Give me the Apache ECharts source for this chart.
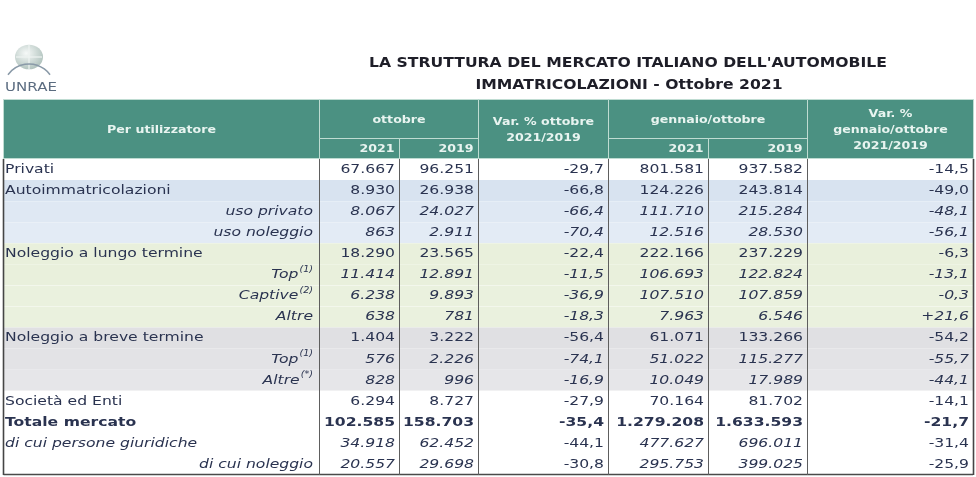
<!DOCTYPE html>
<html><head><meta charset="utf-8">
<script src="https://cdn.jsdelivr.net/npm/echarts@6/dist/echarts.min.js"></script>
<style>html,body{margin:0;padding:0;background:#fff}#c{width:976px;height:477px}</style>
</head><body><div id="c"></div>
<script>
// ---- data ----
const rowLabels = ['Privati','Autoimmatricolazioni','uso privato','uso noleggio','Noleggio a lungo termine','Top','Captive','Altre','Noleggio a breve termine','Top','Altre','Società ed Enti','Totale mercato','di cui persone giuridiche','di cui noleggio'];
const rowNotes = ['','','','','','(1)','(2)','','','(1)','(*)','','','',''];
const rowKinds = ['main','main','sub','sub','main','sub','sub','sub','main','sub','sub','main','total','note','noteSub'];
const ott2021 = [67667, 8930, 8067, 863, 18290, 11414, 6238, 638, 1404, 576, 828, 6294, 102585, 34918, 20557];
const ott2019 = [96251, 26938, 24027, 2911, 23565, 12891, 9893, 781, 3222, 2226, 996, 8727, 158703, 62452, 29698];
const varOtt = [-29.7, -66.8, -66.4, -70.4, -22.4, -11.5, -36.9, -18.3, -56.4, -74.1, -16.9, -27.9, -35.4, -44.1, -30.8];
const gen2021 = [801581, 124226, 111710, 12516, 222166, 106693, 107510, 7963, 61071, 51022, 10049, 70164, 1279208, 477627, 295753];
const gen2019 = [937582, 243814, 215284, 28530, 237229, 122824, 107859, 6546, 133266, 115277, 17989, 81702, 1633593, 696011, 399025];
const varGen = [-14.5, -49.0, -48.1, -56.1, -6.3, -13.1, -0.3, 21.6, -54.2, -55.7, -44.1, -14.1, -21.7, -31.4, -25.9];
const headerTop = ['Per utilizzatore', 'ottobre', 'Var. % ottobre\n2021/2019', 'gennaio/ottobre', 'Var. %\ngennaio/ottobre\n2021/2019'];
const yearLabels = ['2021', '2019'];
const titleLines = ["LA STRUTTURA DEL MERCATO ITALIANO DELL'AUTOMOBILE", 'IMMATRICOLAZIONI - Ottobre 2021'];

// ---- layout / style ----
const colEdges = [0, 316, 396, 475, 605, 705, 804, 970];
const rowFill = ['#ffffff','#d8e3f0','#dfe8f3','#e3ebf5','#e9f0dc','#e9f0dc','#eaf1de','#eaf1de','#e0e0e3','#e3e3e6','#e6e6e9','#ffffff','#ffffff','#ffffff','#ffffff'];
const FONT = '"DejaVu Sans", Verdana, sans-serif';
const SX = 1.2;
const TXT = '#2a3350';
const TEAL = '#4b9182';
const HLINE = '#bfdcd2';

const fmtInt = n => String(n).replace(/\B(?=(\d{3})+(?!\d))/g, '.');
const fmtPct = v => (v > 0 ? '+' : '') + v.toFixed(1).replace('.', ',');
const columns = [null, ott2021.map(fmtInt), ott2019.map(fmtInt), varOtt.map(fmtPct), gen2021.map(fmtInt), gen2019.map(fmtInt), varGen.map(fmtPct)];

const mctx = document.createElement('canvas').getContext('2d');
function measure(t, f) { mctx.font = f; return mctx.measureText(t).width; }

const headerCells = [
  {c0:0,c1:1,r0:0,r1:3,t:headerTop[0],a:'center'},
  {c0:1,c1:3,r0:0,r1:2,t:headerTop[1],a:'center'},
  {c0:1,c1:2,r0:2,r1:3,t:yearLabels[0],a:'right'},
  {c0:2,c1:3,r0:2,r1:3,t:yearLabels[1],a:'right'},
  {c0:3,c1:4,r0:0,r1:3,t:headerTop[2],a:'center'},
  {c0:4,c1:6,r0:0,r1:2,t:headerTop[3],a:'center'},
  {c0:4,c1:5,r0:2,r1:3,t:yearLabels[0],a:'right'},
  {c0:5,c1:6,r0:2,r1:3,t:yearLabels[1],a:'right'},
  {c0:6,c1:7,r0:0,r1:3,t:headerTop[4],a:'center'}
];

const cellData = [];
for (let r = 0; r < rowLabels.length; r++) for (let c = 0; c < 7; c++) cellData.push([c, r]);

function bodyText(x, y, text, align, font) {
  return {type:'text', x:x, y:y, scaleX:SX, style:{text:text, x:0, y:0, align:align, verticalAlign:'middle', font:font, fill:TXT}};
}

const chart = echarts.init(document.getElementById('c'), null, {renderer:'canvas'});
chart.setOption({
  animation: false,
  backgroundColor: '#ffffff',
  grid: [
    {left: 3, top: 99, width: 970, height: 59},
    {left: 3, top: 159, width: 970, height: 316}
  ],
  xAxis: [
    {type:'value', gridIndex:0, min:0, max:970, show:false},
    {type:'value', gridIndex:1, min:0, max:970, show:false}
  ],
  yAxis: [
    {type:'value', gridIndex:0, min:0, max:3, inverse:true, show:false},
    {type:'category', gridIndex:1, data:rowLabels, inverse:true, show:false}
  ],
  graphic: [
    {type:'circle', x:29, y:57, scaleY:0.88, shape:{cx:0, cy:0, r:14}, style:{fill:{type:'radial', x:0.4, y:0.35, r:0.8, colorStops:[{offset:0,color:'#f6f9f8'},{offset:1,color:'#a3b8b2'}]}}},
    {type:'line', shape:{x1:29, y1:45, x2:29, y2:69}, style:{stroke:'#eef4f2', lineWidth:1.2}},
    {type:'line', shape:{x1:16, y1:57, x2:42, y2:57}, style:{stroke:'#eef4f2', lineWidth:1.2}},
    {type:'arc', shape:{cx:29, cy:90, r:26, startAngle:Math.PI*1.2, endAngle:Math.PI*1.8}, style:{stroke:'#8a9aa8', lineWidth:1.5, fill:null}},
    {type:'text', x:31, y:88, scaleX:1.25, style:{text:'UNRAE', x:0, y:0, align:'center', verticalAlign:'middle', font:'12px ' + FONT, fill:'#5b6c80'}},
    {type:'text', x:628, y:63, scaleX:1.116, style:{text:titleLines[0], x:0, y:0, align:'center', verticalAlign:'middle', font:'bold 14px ' + FONT, fill:'#1e1e28'}},
    {type:'text', x:629, y:85, scaleX:1.116, style:{text:titleLines[1], x:0, y:0, align:'center', verticalAlign:'middle', font:'bold 14px ' + FONT, fill:'#1e1e28'}}
  ],
  series: [
    // header cells
    {
      type:'custom', xAxisIndex:0, yAxisIndex:0, clip:false, z:2,
      data: headerCells.map((h, i) => [i, 0]),
      renderItem: function (params, api) {
        const h = headerCells[api.value(0)];
        const p0 = api.coord([colEdges[h.c0], h.r0]);
        const p1 = api.coord([colEdges[h.c1], h.r1]);
        const x0 = Math.round(p0[0]) + 0.5, y0 = Math.round(p0[1]) + 0.5;
        const x1 = Math.round(p1[0]) + 0.5, y1 = Math.round(p1[1]) + 0.5;
        const tx = h.a === 'right' ? x1 - 5 : (x0 + x1) / 2;
        return {type:'group', children:[
          {type:'rect', shape:{x:x0, y:y0, width:x1-x0, height:y1-y0}, style:{fill:TEAL, stroke:HLINE, lineWidth:1}},
          {type:'text', x:tx, y:(y0 + y1) / 2 + 1, scaleX:SX, style:{text:h.t, x:0, y:0, align:h.a, verticalAlign:'middle', lineHeight:16, font:'bold 10.5px ' + FONT, fill:'#e8f4f0'}}
        ]};
      }
    },
    // row backgrounds
    {
      type:'custom', xAxisIndex:1, yAxisIndex:1, clip:false, z:1,
      data: rowLabels.map((l, r) => [0, r]),
      renderItem: function (params, api) {
        const r = api.value(1);
        const c = api.coord([colEdges[0], r]);
        const e = api.coord([colEdges[7], r]);
        const h = api.size([0, 1])[1];
        return {type:'group', children:[
          {type:'rect', shape:{x:c[0], y:c[1] - h / 2, width:e[0] - c[0], height:h}, style:{fill:rowFill[r]}},
          {type:'line', shape:{x1:c[0], y1:Math.round(c[1] + h / 2) + 0.5, x2:e[0], y2:Math.round(c[1] + h / 2) + 0.5}, style:{stroke:'rgba(255,255,255,0.7)', lineWidth:1}}
        ]};
      }
    },
    // column separators
    {
      type:'custom', xAxisIndex:1, yAxisIndex:1, clip:false, z:4,
      data: colEdges.map((e, i) => [i, 0]),
      renderItem: function (params, api) {
        const i = api.value(0);
        const h = api.size([0, 1])[1];
        const top = api.coord([colEdges[i], 0]);
        const bot = api.coord([colEdges[i], rowLabels.length - 1]);
        const outer = (i === 0 || i === colEdges.length - 1);
        const x = Math.round(top[0]) + 0.5;
        const y0 = top[1] - h / 2, y1 = bot[1] + h / 2;
        const children = [{type:'line', shape:{x1:x, y1:y0, x2:x, y2:y1}, style:{stroke:outer ? '#454545' : '#5e5e5e', lineWidth:outer ? 1.6 : 1}}];
        if (i === 0) {
          const right = api.coord([colEdges[colEdges.length - 1], 0])[0];
          children.push({type:'line', shape:{x1:x, y1:Math.round(y1) - 0.5, x2:right, y2:Math.round(y1) - 0.5}, style:{stroke:'#4a4a4a', lineWidth:1.6}});
        }
        return {type:'group', children:children};
      }
    },
    // cells
    {
      type:'custom', xAxisIndex:1, yAxisIndex:1, clip:false, z:3,
      data: cellData,
      renderItem: function (params, api) {
        const c = api.value(0), r = api.value(1);
        const kind = rowKinds[r];
        const y = api.coord([0, r])[1];
        const xl = api.coord([colEdges[c], r])[0];
        const xr = api.coord([colEdges[c + 1], r])[0];
        if (c === 0) {
          const label = rowLabels[r];
          let style = 'normal', weight = 'normal', align = 'left';
          if (kind === 'sub') { style = 'italic'; align = 'right'; }
          if (kind === 'total') weight = 'bold';
          if (kind === 'note') style = 'italic';
          if (kind === 'noteSub') { style = 'italic'; align = 'right'; }
          const font = style + ' ' + weight + ' 13px ' + FONT;
          if (align === 'left') return bodyText(xl + 2, y, label, 'left', font);
          const note = rowNotes[r];
          if (!note) return bodyText(xr - 6, y, label, 'right', font);
          const sfont = 'italic 8px ' + FONT;
          const sw = measure(note, sfont) * SX + 1;
          return {type:'group', children:[
            bodyText(xr - 6 - sw, y, label, 'right', font),
            {type:'text', x:xr - 6, y:y - 5, scaleX:SX, style:{text:note, x:0, y:0, align:'right', verticalAlign:'middle', font:sfont, fill:TXT}}
          ]};
        }
        const isVar = (c === 3 || c === 6);
        let italic = kind === 'sub' || ((kind === 'note' || kind === 'noteSub') && !isVar);
        const weight = kind === 'total' ? 'bold' : 'normal';
        const font = (italic ? 'italic ' : 'normal ') + weight + ' 13px ' + FONT;
        return bodyText(xr - 4, y, columns[c][r], 'right', font);
      }
    }
  ]
});
</script>
</body></html>
